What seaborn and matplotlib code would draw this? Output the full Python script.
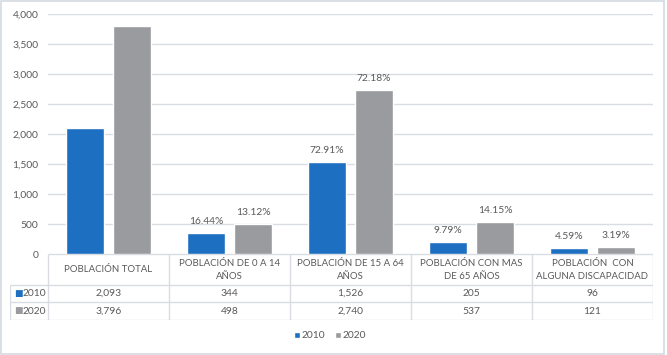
import unicodedata
import numpy as np
import pandas as pd
import matplotlib
matplotlib.use('Agg')
import matplotlib.pyplot as plt
from matplotlib.patches import Rectangle
import seaborn as sns

# Datos del gráfico
categorias = ['POBLACIÓN TOTAL', 'POBLACIÓN DE 0 A 14\nAÑOS', 'POBLACIÓN DE 15 A 64\nAÑOS',
              'POBLACIÓN CON MAS\nDE 65 AÑOS', 'POBLACIÓN  CON\nALGUNA DISCAPACIDAD']
anios = ['2010', '2020']
valores_2010 = [2093, 344, 1526, 205, 96]
valores_2020 = [3796, 498, 2740, 537, 121]
y_ticks = [0, 500, 1000, 1500, 2000, 2500, 3000, 3500, 4000]

categorias = [unicodedata.normalize('NFC', c) for c in categorias]

colores = {'2010': '#1d6fc2', '2020': '#9a9b9e'}
texto = '#595959'
linea = '#d9dde2'
fs = 7.4

sns.set_theme(style='white')
plt.rcParams['font.family'] = 'Lato'

df = pd.DataFrame({
    'cat': categorias * 2,
    'anio': ['2010'] * 5 + ['2020'] * 5,
    'valor': valores_2010 + valores_2020,
})

W, H = 667, 355
fig = plt.figure(figsize=(W / 100, H / 100), dpi=100)
fig.patch.set_facecolor('white')

# marco exterior
fig.add_artist(Rectangle((0.5 / W, 1 - 354 / H), 663 / W, 353 / H, transform=fig.transFigure,
                         fill=False, edgecolor='#d3dae1', lw=1.2))

ax = fig.add_axes([48 / W, 1 - 254 / H, 605 / W, 240 / H])
sns.barplot(data=df, x='cat', y='valor', hue='anio', palette=colores, width=0.776, gap=0.21,
            saturation=1, ax=ax, legend=True)
ax.set_xlim(-0.5, 4.5)
ax.set_ylim(0, 4000)
ax.set_yticks(y_ticks)
ax.set_yticklabels([f'{v:,}' for v in y_ticks], color=texto, fontsize=fs)
ax.tick_params(axis='y', length=0, pad=7)
ax.set_xticks([])
ax.set_xlabel('')
ax.set_ylabel('')
ax.grid(axis='y', color=linea, lw=1)
ax.set_axisbelow(True)
for s in ax.spines.values():
    s.set_visible(False)

# porcentajes respecto al total (sin etiqueta en la primera categoría)
totales = {'2010': valores_2010[0], '2020': valores_2020[0]}
for cont, anio in zip(ax.containers, anios):
    vals = valores_2010 if anio == '2010' else valores_2020
    etiquetas = [''] + [f'{v / totales[anio] * 100:.2f}%' for v in vals[1:]]
    ax.bar_label(cont, labels=etiquetas, padding=5, color=texto, fontsize=fs)

handles, labels = ax.get_legend_handles_labels()
ax.get_legend().remove()
fig.legend(handles, labels, loc='center', bbox_to_anchor=(330 / W, 1 - 336 / H), ncol=2,
           frameon=False, handlelength=0.6, handleheight=0.6, handletextpad=0.2,
           columnspacing=0.9, fontsize=fs, labelcolor=texto)

# tabla de datos
tx = fig.add_axes([10 / W, 1 - 320 / H, 643 / W, 66 / H])
x0 = -0.5 - 38 / 121
tx.set_xlim(x0, 4.5)
tx.set_ylim(320, 254)
tx.axis('off')
fila_h = [254, 285, 302, 320]
tx.hlines(254, -0.5, 4.5, color=linea, lw=1)
tx.hlines(fila_h[1:], x0, 4.5, color=linea, lw=1)
tx.vlines(x0, 285, 320, color=linea, lw=1)
tx.vlines(np.arange(-0.5, 5.0, 1.0), 254, 320, color=linea, lw=1)

for i, c in enumerate(categorias):
    lineas = c.split('\n')
    n = len(lineas)
    for k, ln in enumerate(lineas):
        yy = 270 + (k - (n - 1) / 2) * 13.5
        tx.text(i, yy, ln, ha='center', va='center', color=texto, fontsize=6.9)
    tx.text(i, 293.5, f'{valores_2010[i]:,}', ha='center', va='center', color=texto, fontsize=fs)
    tx.text(i, 311, f'{valores_2020[i]:,}', ha='center', va='center', color=texto, fontsize=fs)

for anio, yy in zip(anios, [293.5, 311]):
    tx.text(x0 + 0.03, yy, '■', ha='left', va='center', color=colores[anio], fontsize=6.5,
            family='DejaVu Sans')
    tx.text(x0 + 0.1, yy, anio, ha='left', va='center', color=texto, fontsize=fs)

fig.savefig('out.png', dpi=100, facecolor='white')
